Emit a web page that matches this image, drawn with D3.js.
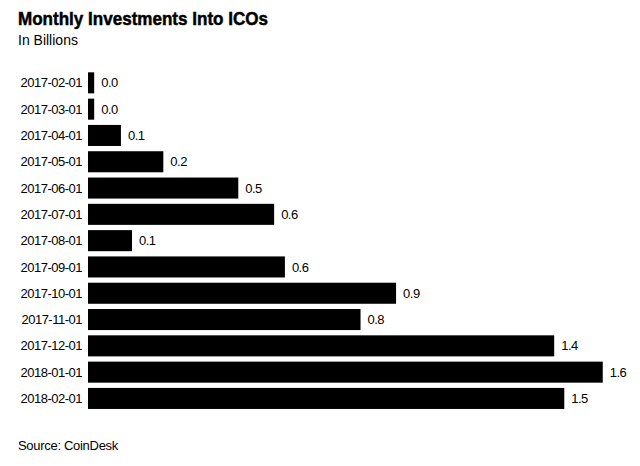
<!DOCTYPE html>
<html>
<head>
<meta charset="utf-8">
<script src="https://cdn.jsdelivr.net/npm/d3@7"></script>
<style>
  html, body { margin: 0; padding: 0; background: #fff; }
  svg { display: block; font-family: "Liberation Sans", Arial, Helvetica, sans-serif; }
</style>
</head>
<body>
<svg id="chart" width="640" height="466"></svg>
<script>
const categories = ["2017-02-01","2017-03-01","2017-04-01","2017-05-01","2017-06-01","2017-07-01","2017-08-01","2017-09-01","2017-10-01","2017-11-01","2017-12-01","2018-01-01","2018-02-01"];
const values = [0.019, 0.019, 0.101, 0.231, 0.461, 0.571, 0.135, 0.604, 0.945, 0.836, 1.430, 1.579, 1.461];
const valueLabels = ["0.0","0.0","0.1","0.2","0.5","0.6","0.1","0.6","0.9","0.8","1.4","1.6","1.5"];
const title = "Monthly Investments Into ICOs";
const subtitle = "In Billions";
const source = "Source: CoinDesk";

const svg = d3.select("#chart");
svg.append("rect").attr("width", 640).attr("height", 466).attr("fill", "#fff");

const x = d3.scaleLinear().domain([0, 1.6]).range([88, 609.6]);
const y = d3.scaleBand().domain(categories).range([69.7, 411.6]).paddingInner(0.2).paddingOuter(0.1);

svg.append("text").attr("x", 18).attr("y", 25)
  .attr("font-size", 19).attr("font-weight", "bold").attr("fill", "#000")
  .attr("stroke", "#000").attr("stroke-width", 0.5)
  .attr("textLength", 250).attr("lengthAdjust", "spacingAndGlyphs")
  .text(title);
svg.append("text").attr("x", 18).attr("y", 44.5)
  .attr("font-size", 14).attr("fill", "#000").text(subtitle);

const rows = categories.map((c, i) => ({c, v: values[i], l: valueLabels[i]}));

svg.append("g").selectAll("rect").data(rows).join("rect")
  .attr("x", x(0)).attr("y", d => y(d.c))
  .attr("width", d => x(d.v) - x(0)).attr("height", y.bandwidth())
  .attr("fill", "#000");

svg.append("g").selectAll("text").data(rows).join("text")
  .attr("x", 82).attr("y", d => y(d.c) + y.bandwidth() / 2)
  .attr("dy", "0.35em").attr("text-anchor", "end")
  .attr("font-size", 13).attr("letter-spacing", -0.5).attr("fill", "#000")
  .text(d => d.c);

svg.append("g").selectAll("text").data(rows).join("text")
  .attr("x", d => x(d.v) + 7).attr("y", d => y(d.c) + y.bandwidth() / 2)
  .attr("dy", "0.35em")
  .attr("font-size", 13).attr("letter-spacing", -0.5).attr("fill", "#000")
  .text(d => d.l);

svg.append("text").attr("x", 18).attr("y", 450)
  .attr("font-size", 13).attr("letter-spacing", -0.3).attr("fill", "#000").text(source);
</script>
</body>
</html>
